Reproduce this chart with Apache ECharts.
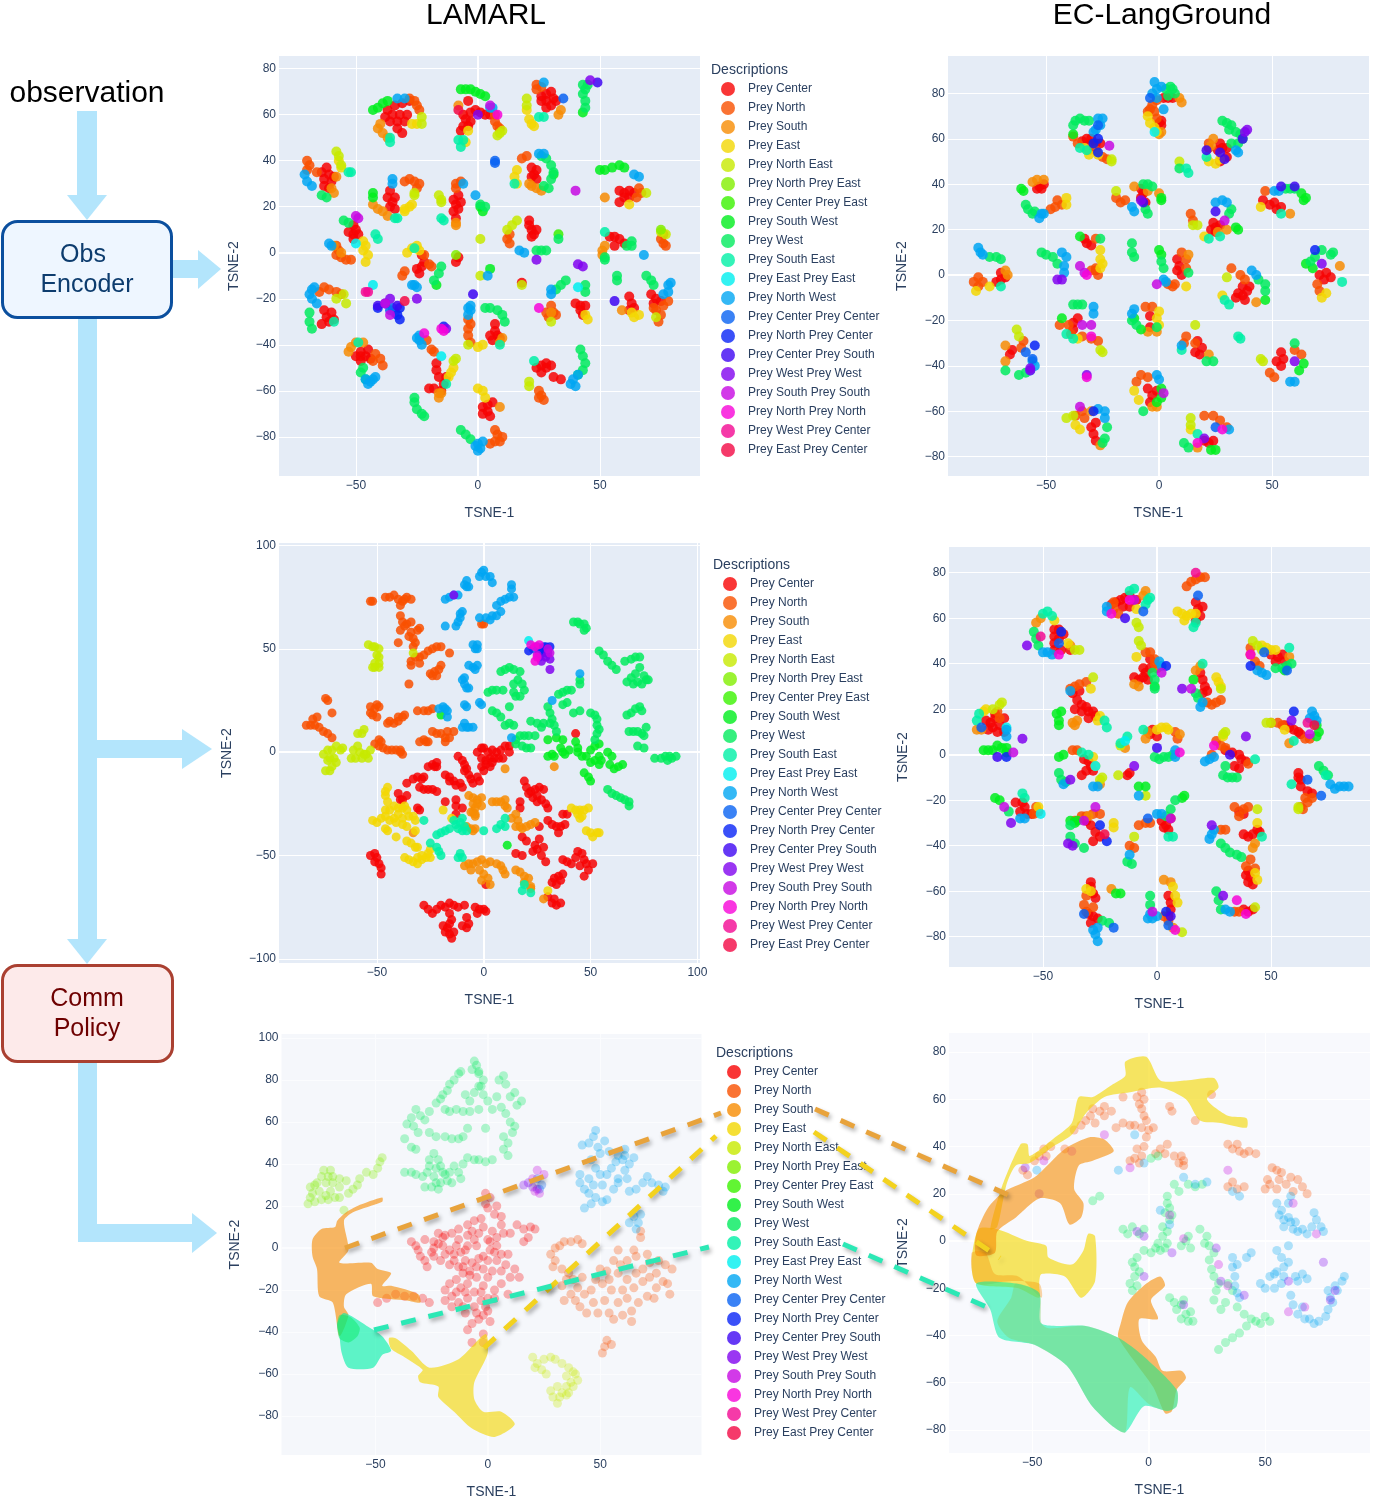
<!DOCTYPE html>
<html><head><meta charset="utf-8">
<script src="https://cdn.jsdelivr.net/npm/echarts@6/dist/echarts.min.js"></script>
<style>html,body{margin:0;padding:0;background:#fff}#c{width:1375px;height:1503px}</style></head>
<body><div id="c"></div>
<script>
const labels=["Prey Center","Prey North","Prey South","Prey East","Prey North East","Prey North Prey East","Prey Center Prey East","Prey South West","Prey West","Prey South East","Prey East Prey East","Prey North West","Prey Center Prey Center","Prey North Prey Center","Prey Center Prey South","Prey West Prey West","Prey South Prey South","Prey North Prey North","Prey West Prey Center","Prey East Prey Center"];
const colors=["#f70404","#f95000","#f78c03","#f3d702","#c7ea00","#82ef00","#3bf200","#00ee1d","#02eb5e","#00f0a6","#00efef","#01a6f2","#0963f2","#0924f6","#3f06f2","#8104ef","#c709e2","#f704d8","#f30992","#f30945"];

// Panel A: LAMARL, observation embedding
const a_center=[-37,62,-34,64,-31,65,-28,66,-38,59,-35,60,-32,60,-36,57,-33,57,-30,57,-33,54,-31,52,-29,60,-6,60,-3,61,-1,62,1,61,3,60,5,60,-5,58,-3,57,-6,55,-4,55,-7,53,-4,66,26,68,28,69,30,70,31,67,28,66,26,66,30,64,32,66,28,63,-64,35,-62,37,-61,34,-63,32,-60,31,-61,28,-63,29,-59,33,-36,27,-37,24,-35,22,-36,20,-34,19,-34,24,-10,23,-9,21,-8,19,-10,18,-9,15,-7,22,-8,25,22,37,24,36,23,34,22,33,24,32,58,27,60,26,62,27,60,24,58,22,62,24,64,26,-53,9,-51,8,-51,12,-49,8,-51,6,-50,10,21,14,21,12,22,10,23,8,22,7,24,10,54,7,56,7,58,6,60,4,56,3,-25,-7,-23,-6,-24,-9,-22,-4,-23,-1,-63,-25,-62,-28,-60,-26,-61,-30,-59,-29,-64,-31,5,-36,7,-34,8,-36,6,-38,9,-37,7,-31,-50,-45,-48,-45,-46,-45,-48,-43,-48,-47,-45,-42,-44,-46,-17,-48,-17,-51,-16,-54,-14,-57,-15,-60,-18,-59,-20,-59,-13,-54,24,-50,26,-49,28,-50,30,-49,26,-52,28,-48,31,-54,34,-55,2,-67,4,-66,6,-65,4,-69,2,-70,5,-71,40,-22,42,-23,44,-23,42,-25,43,-27,62,-19,63,-22,64,-24,62,-25,71,-18,73,-20,72,-22,75,-21,-9,-4,-8,-2,18,-13];
const a_north=[-28,67,-26,66,-25,64,-24,62,24,73,26,72,24,71,-70,40,-69,38,-70,36,-66,35,-30,31,-28,32,-26,31,-24,30,-25,28,-9,30,-7,31,-9,28,18,41,20,42,66,28,67,26,65,24,-58,-1,-56,-2,-54,-3,-57,1,-58,3,-52,-3,13,4,12,6,13,8,75,6,76,4,77,3,76,8,29,-28,31,-26,32,-27,28,-26,30,-23,73,-25,75,-27,74,-30,72,-24,76,-23,78,-21,-19,-42,-18,-43,-21,-38,-22,-1,-20,-5,-19,-6,-30,-8,-31,-10,-63,-15,-61,-16,-58,-17,-56,-18,-65,-17,5,-83,7,-82,9,-82,8,-79,7,-77,10,-80,25,-60,26,-62,27,-64,25,-63,-4,-33,-4,-36,-3,-39,-3,-31,-4,-29,-42,-44,-40,-46,-39,-49,-43,-47,7,60,7,57,8,55,9,54];
const a_south=[-40,56,-41,54,-39,52,-37,50,34,62,33,60,-60,28,-59,26,-58,33,-43,21,-41,19,-39,18,-37,16,-9,13,-9,12,21,30,24,28,26,27,22,29,52,24,-59,3,-56,0,51,1,51,-1,52,3,-53,-43,-52,-41,-50,-39,-47,-39,-16,-61,-16,-63,-15,-61,59,-25,30,-26,9,-39,10,-37,9,-67,-8,64];
const a_east=[-27,56,-25,56,20,62,21,58,22,56,23,55,-4,53,-5,48,-57,40,-56,37,-28,20,-30,19,-30,18,-27,21,16,36,15,33,16,30,62,21,-47,5,-46,3,-47,1,-45,-1,-46,-4,-27,2,-29,0,-25,3,-24,1,-11,-52,-10,-50,-12,-54,0,-59,2,-60,3,-63,63,-26,64,-28,66,-27,44,-27,45,-29,2,-40,0,-41];
const a_ne=[-23,59,-23,56,8,51,10,53,9,52,-58,44,-57,42,-56,38,20,67,20,64,-26,26,-26,25,-16,25,-15,23,-15,22,69,26,12,10,14,12,16,14,-10,-47,-9,-46,75,9,77,8,18,-14,1,-10,-58,-20,-55,-18,-54,-22,30,-30,73,-28,-4,-40,21,-56,21,-58,1,6];
const a_npe=[-9,-1,75,10];
const a_cpe=[33,8];
const a_sw=[-43,62,-41,63,-39,65,-37,66,50,36,52,36,55,37,58,38,60,37,-43,26,-43,24,1,20,2,18,-17,-14,43,61,5,-7,31,34,-7,71,-5,71,-3,71,-1,70,1,69,3,68];
const a_west=[43,73,45,73,44,71,43,69,44,66,44,63,26,42,28,41,30,38,31,35,30,32,29,28,27,29,-64,25,-62,24,1,21,3,20,24,1,26,1,28,1,33,6,63,5,63,3,61,3,52,-2,52,-3,57,-10,57,-12,69,-10,71,-12,72,-14,44,-14,44,-17,36,-12,34,-14,32,-16,3,-24,5,-24,8,-25,10,-27,11,-30,-18,-12,-16,-9,-15,-6,-26,-65,-25,-68,-23,-70,-22,-71,-26,-63,-7,-77,-5,-79,-3,-81,42,-42,43,-45,44,-48,43,-51,41,-53,-47,-50,-48,-52,-46,-55,-69,-26,-69,-30,-68,-33,-55,14,-53,13];
const a_se=[-36,50,-36,48,-8,49,-6,49,-7,46,25,59,27,59,-53,35,-52,35,-34,15,-33,15,-15,15,-14,14,15,30,52,9,-42,8,-41,6,-26,2,-59,-30,-49,-39,-13,-57,9,-40,23,-47];
const a_epe=[41,-15,-43,-14,-50,4,-15,-45];
const a_nw=[-33,67,-30,67,27,74,-71,34,-70,31,-68,29,-35,32,-35,30,-1,25,-6,30,25,43,27,43,64,34,66,33,-60,3,-61,4,17,1,19,0,-26,-14,-25,-15,-27,-14,-68,-16,-69,-18,-67,-15,-68,-20,-66,-22,-4,-24,-3,-25,-4,-27,-3,-23,-24,-36,-24,-38,-23,-40,-25,-37,-46,-55,-44,-56,-43,-55,-45,-57,-42,-54,0,-83,1,-85,2,-82,0,-86,-1,-84,38,-57,40,-58,39,-55,41,-53,76,-18,78,-17,78,-14,79,-13,30,-18,30,-16,4,-10,68,-1,5,63,6,63];
const a_cpc=[-35,-24,-34,-26,-36,-25,7,40,7,39,35,67];
const a_npc=[-33,-27,-32,-24,-32,-29,-14,-32,-41,-24];
const a_cps=[-41,-23,-38,-22,-2,-18,56,-21,-33,-23,49,74];
const a_wpw=[0,60,-36,-20,-25,-20,-13,-33,24,-3,41,-5,43,-6,46,75];
const a_sps=[-50,16,-49,15,40,27,-38,-22,-36,-27,5,64];
const a_npn=[8,60,-15,-33,-14,-34,-22,-35,25,-24];
const a_wpc=[-46,-17,-45,-17];
const a_epc=[-8,62,-30,-21];
const panelA=[a_center,a_north,a_south,a_east,a_ne,a_npe,a_cpe,a_sw,a_west,a_se,a_epe,a_nw,a_cpc,a_npc,a_cps,a_wpw,a_sps,a_npn,a_wpc,a_epc];

// Panel B: EC-LangGround, observation embedding
const b_center=[2,78,4,78,6,78,0,67,1,66,1,68,-34,59,-32,60,-30,58,-28,58,-26,58,-30,60,27,58,28,56,30,56,26,55,30,52,27,50,-53,39,-51,40,-54,38,-52,38,-8,38,-7,36,-8,34,-6,32,24,23,25,21,23,20,25,19,27,22,46,33,49,31,52,29,54,30,51,32,-72,-3,-70,-2,-68,-1,-70,1,-32,14,-30,13,-33,16,-28,2,8,7,9,4,8,2,10,0,37,-5,39,-7,37,-9,35,-8,34,-10,38,-11,40,-5,71,0,73,-2,74,1,76,-1,-38,-21,-36,-19,-38,-24,-4,-18,-4,-23,17,-29,19,-32,18,-35,16,-34,-65,-33,-66,-35,-5,-50,-3,-53,-4,-56,-1,-51,54,-34,55,-37,54,-40,52,-38,-30,-67,-29,-70,-28,-73,-28,-65,20,-73,22,-74,24,-73];
const b_north=[-1,77,-3,75,-4,73,-5,72,-2,72,-1,69,-38,61,-36,58,-31,55,-28,55,-25,52,-23,51,22,56,22,58,-48,29,-46,30,-45,33,-43,31,-19,34,-17,32,-15,33,14,27,15,24,47,37,-80,-5,-82,-3,-80,-1,-78,-3,-28,16,-30,2,-27,0,-28,3,4,-4,6,-5,7,-4,10,10,12,7,12,3,32,3,36,0,38,-2,70,-4,71,-7,-44,-22,-40,-22,-39,-26,-34,-27,-30,-28,-27,-29,-6,-14,-3,-14,12,-27,11,-30,16,-30,-60,-29,-61,-32,-10,-47,-8,-44,-5,-45,49,-43,51,-45,63,-35,60,-33,-37,-62,-34,-60,-33,-63,20,-62,24,-62,27,-64,30,-67];
const b_south=[9,78,10,76,0,62,1,63,24,60,23,57,-56,41,-54,42,-51,42,-11,39,-5,37,0,36,26,19,30,20,58,27,-68,2,-67,0,13,9,43,-12,80,4,-5,-25,-1,-25,22,-35,-68,-31,-68,-38,-3,-58,-1,-58,-30,-60,-26,-75,17,-76];
const b_east=[-5,70,-4,67,-2,65,-1,63,-33,56,-31,53,-27,53,22,50,25,49,27,51,-41,34,-41,31,20,17,45,30,-81,-7,-75,-5,-26,11,-26,7,-26,3,-25,5,12,-5,28,-9,72,-10,74,-8,-36,-28,-1,-19,0,-16,0,-22,-11,-51,-9,-55,-37,-66,-35,-68,14,-68];
const b_ne=[-21,50,-21,51,-19,37,15,22,17,22,30,-1,-26,-33,-25,-34,16,-22,-63,-24,-62,-27,45,-37,46,-38,-41,-63,-38,-62,14,-63,14,-66,9,50];
const b_sw=[-38,62,-60,37,-61,38,1,33,1,34,34,21,35,20,63,36,65,34,64,33,-35,17,0,11,1,9,47,-11,65,5,68,3,-43,-19,-11,-19,-8,-24,1,-50,1,-54,-1,-56,64,-39,62,-42,23,-77,25,-77];
const b_west=[3,82,5,83,6,82,7,80,4,79,-38,66,-37,68,-35,69,-33,68,-31,68,28,68,30,67,32,66,34,63,36,62,37,60,35,58,32,58,31,64,9,47,-59,31,-58,29,-56,27,-55,28,-7,40,-5,40,-3,39,-6,29,-5,27,32,29,31,27,56,38,58,38,60,38,-75,8,-72,8,-70,7,-52,10,-50,9,-47,8,-45,5,-26,16,-12,14,-12,10,-11,8,1,6,2,3,13,1,44,-2,47,-4,47,-7,67,6,69,8,72,11,76,9,77,10,-38,-13,-36,-13,-34,-13,-12,-20,-10,-22,-1,-23,21,-38,24,-38,-68,-42,-62,-44,-59,-43,-7,-60,60,-30,-23,-67,-24,-72,-25,-74,11,-74,13,-76];
const b_se=[-35,56,-32,55,21,52,22,16,27,17,54,27,-70,-5,29,-11,31,-13,81,-3,-41,-26,-38,-28,10,-33,17,-70,12,47,13,45,35,-27,36,-28];
const b_nw=[-2,85,-1,82,-3,80,-1,78,1,83,2,73,-27,69,-25,69,-26,66,-28,64,-29,63,34,55,35,54,-52,27,-51,27,-53,25,-12,30,-11,28,25,32,28,33,30,32,53,37,51,37,-80,12,-79,10,-78,9,-43,10,-41,8,-42,4,-42,1,2,-2,3,-3,41,2,43,0,-29,-14,-29,-17,-11,-15,-12,-17,-57,-42,-56,-38,-55,-40,-1,-44,0,-46,58,-47,60,-47,-27,-59,-24,-60,-24,-63,10,-31,31,-68];
const b_epe=[-2,63];
const b_cpc=[-56,-37,25,-67,-27,66,-4,78,-59,-34];
const b_npc=[-27,60,69,11,-55,-31,-29,58,-27,54,-29,-60];
const b_cps=[27,54,21,55,29,51,37,60,-7,32,25,28,54,39,60,39];
const b_wpw=[38,63,39,64,-8,33,72,5,-32,-44,-45,-2,-43,-2,-57,-41,-57,-42,60,-38,20,-72];
const b_sps=[-22,57,29,24,-34,-22,-30,-22,-33,1,-35,4,-1,-4,2,-52,-35,-58];
const b_npn=[-32,0,-30,-27,28,-68,17,-74,-32,-45];
const panelB=[b_center,b_north,b_south,b_east,b_ne,null,null,b_sw,b_west,b_se,b_epe,b_nw,b_cpc,b_npc,b_cps,b_wpw,b_sps,b_npn,null,null];

// Panel C: LAMARL, encoder after communication
const c_center=[-3,0,-1,2,0,2,2,0,4,1,6,0,8,1,10,3,12,3,12,0,-1,-3,1,-4,3,-3,5,-3,7,-3,9,-3,1,-6,3,-7,4,-5,0,-9,-1,-7,-12,-2,-10,-4,-9,-6,-8,-8,-9,-9,-7,-11,-6,-13,-5,-15,-2,-14,-3,-12,-26,-7,-24,-6,-23,-7,-22,-5,-22,-7,-18,-11,-16,-14,-14,-14,-13,-16,-11,-15,-10,-17,-16,-12,-36,-15,-33,-13,-31,-12,-29,-13,-28,-12,-30,-17,-28,-18,-26,-18,-24,-18,-22,-19,-40,-20,-39,-23,-38,-23,-36,-21,-30,-28,-31,-27,-18,-24,-13,-23,-13,-26,-10,-27,-13,-30,19,-14,20,-17,22,-19,24,-18,26,-17,28,-18,21,-20,23,-22,25,-21,27,-23,29,-25,25,-24,30,-27,17,-24,17,-27,37,-30,39,-30,30,-33,32,-35,34,-36,36,-36,35,-39,38,-35,26,-36,18,-41,20,-43,24,-45,25,-47,26,-42,28,-46,27,-50,29,-53,23,-48,15,-49,18,-50,37,-52,39,-53,41,-54,44,-48,46,-49,47,-52,45,-55,48,-54,49,-57,47,-60,51,-54,43,-51,33,-61,35,-60,36,-62,34,-64,37,-59,32,-63,30,-70,32,-73,34,-74,36,-73,33,-71,-53,-50,-51,-49,-51,-53,-49,-54,-48,-56,-50,-51,-48,-59,-28,-74,-26,-76,-24,-78,-22,-76,-20,-74,-18,-75,-16,-73,-14,-74,-12,-75,-9,-74,-4,-75,-2,-76,0,-76,1,-77,-3,-78,-16,-78,-19,-84,-17,-85,-16,-83,-15,-81,-18,-87,-16,-88,-15,-90,-14,-87,-10,-84,-8,-85,-7,-83,-8,-80,1,-64,43,9];
const c_north=[-53,73,-52,73,-46,75,-44,75,-42,76,-40,74,-38,73,-36,75,-34,74,-39,71,-37,74,-39,66,-38,63,-36,62,-34,63,-39,59,-37,61,-34,58,-33,55,-32,53,-35,56,-31,59,-30,60,-33,51,-40,53,-34,44,-32,46,-30,46,-28,47,-26,49,-24,50,-22,51,-20,51,-34,42,-30,43,-16,48,-25,38,-23,39,-21,40,-24,37,-22,37,-20,42,-35,33,-74,26,-73,25,-71,19,-53,22,-52,18,-50,17,-51,21,-50,23,-53,19,-49,22,-44,15,-42,14,-40,15,-38,17,-37,18,-40,17,-45,14,-31,20,-28,20,-26,20,-24,21,-83,13,-81,13,-80,16,-78,17,-79,13,-77,12,-75,10,-73,9,-71,7,-24,10,-22,9,-20,9,-18,7,-17,10,-16,7,-14,10,-18,5,-30,5,-28,6,-27,5,-26,5,-51,4,-49,6,-48,5,-49,3,-47,2,-45,1,-43,1,-41,1,-39,0,-38,-1,-39,1,-1,62,0,62];
const c_south=[-7,-21,-5,-22,-3,-23,-1,-22,-5,-25,-4,-27,-3,-25,-1,-26,-5,-29,-4,-31,4,-24,6,-24,8,-24,10,-23,10,-26,11,-27,13,-32,15,-30,16,-33,17,-36,15,-36,18,-37,20,-36,22,-35,24,-34,-8,-36,-6,-37,-5,-38,-4,-37,-6,-29,-4,-30,-9,-55,-7,-54,-5,-54,-3,-53,-1,-52,1,-54,3,-53,6,-54,8,-55,9,-57,10,-59,-6,-57,-2,-57,0,-59,-1,-62,2,-61,3,-64,15,-57,17,-58,19,-60,21,-61,19,-63,22,-65,22,-66,33,-7,10,-8,28,-71,-33,-39];
const c_east=[-46,-19,-45,-17,-46,-21,-45,-24,-44,-28,-42,-26,-40,-27,-38,-27,-36,-28,-37,-26,-46,-28,-46,-31,-44,-33,-42,-32,-40,-30,-38,-32,-35,-31,-33,-31,-41,-34,-38,-35,-48,-32,-50,-34,-52,-33,-46,-37,-45,-38,-36,-36,-32,-33,-32,-38,-41,-41,-36,-43,-34,-44,-32,-46,-31,-46,-37,-51,-35,-52,-33,-53,-31,-51,-29,-52,-27,-51,-26,-49,-25,-47,-25,-51,-29,-50,-31,-54,41,-27,43,-28,45,-28,47,-28,49,-27,44,-30,46,-31,45,-32,48,-38,50,-39,51,-41,53,-39,54,-39,-19,-28,-15,-32,30,-67];
const c_ne=[-54,52,-52,51,-51,51,-49,50,-50,47,-49,46,-51,43,-49,43,-51,41,-49,41,-52,41,-59,9,-57,9,-56,11,-75,-1,-73,1,-71,1,-69,3,-67,1,-66,2,-72,-3,-70,-3,-73,-4,-69,-5,-71,-7,-72,-9,-74,-9,-62,-3,-61,1,-59,3,-58,0,-60,-3,-56,-1,-55,-1,-54,-3,-53,1,-57,-3,-33,48];
const c_sw=[30,-2,32,-1,33,-2,36,2,37,0,38,-1,40,1,34,7,37,6,30,6,43,5,44,2,44,0,46,-2,48,-2,50,-5,52,-4,50,1,52,3,54,4,54,-2,55,-4,54,-6,58,0,60,-2,59,-6,61,-8,63,-7,65,-6,47,-10,49,-12,50,-14,11,-45,-20,18];
const c_west=[42,63,44,63,45,62,47,62,48,60,47,59,54,49,56,47,58,44,60,42,62,40,66,44,69,45,71,46,73,46,73,41,71,38,69,36,70,33,67,34,72,34,74,33,76,35,77,35,75,37,8,39,10,40,12,41,14,40,17,39,2,29,4,30,6,30,9,30,14,33,16,35,18,33,19,30,17,27,15,27,14,29,4,20,6,19,8,17,12,22,10,13,12,14,14,13,15,6,17,8,19,8,21,8,24,8,15,4,18,3,20,2,22,2,22,15,25,14,27,12,28,14,35,28,37,29,39,30,41,30,37,23,39,24,30,22,31,19,32,16,31,14,33,13,34,10,42,19,45,20,50,19,52,18,53,16,53,13,54,11,53,9,52,6,45,35,45,33,67,18,69,19,71,21,73,22,74,20,68,10,70,10,72,10,74,9,75,8,76,12,72,3,75,2,80,-3,83,-3,85,-2,87,-2,88,-3,90,-2,86,-4,58,-18,60,-20,62,-21,64,-22,66,-23,68,-24,68,-26];
const c_se=[-14,-33,-13,-35,-11,-34,-10,-32,-9,-36,-12,-37,-10,-38,-8,-38,-22,-40,-20,-39,-18,-38,-16,-37,-25,-44,-22,-46,-21,-48,-20,-50,-12,-51,-11,-49,-10,-51,6,-37,8,-35,10,-32,10,-36,-28,-33,19,-64,18,-67,22,-68,0,-38];
const c_epe=[21,54];
const c_nw=[-2,85,-1,87,0,88,1,85,3,85,4,82,-8,83,-9,81,-8,80,-7,80,13,81,13,79,14,75,12,75,10,74,8,73,6,71,8,68,6,66,4,66,3,64,1,65,-2,65,-11,67,-10,68,-11,65,-12,63,-13,61,-18,61,-18,74,-16,75,-14,76,-12,76,-5,52,-4,50,-3,52,-3,50,-7,42,-5,41,-4,40,-3,42,-10,35,-9,33,-8,31,-7,31,-9,36,-21,21,-19,22,-18,21,-17,20,-17,17,-9,23,-8,22,-2,24,-1,23,-9,14,-8,12,-10,12,-7,12,-5,12,13,7,32,25,45,38];
const c_cpc=[23,50,25,51,28,51,26,46];
const c_npc=[27,50,29,51,31,51,29,48,26,48,21,49];
const c_wpw=[30,48,31,45,29,46,27,44,31,40,-14,76];
const c_sps=[31,48,30,50,25,47];
const c_npn=[24,51,22,52,25,46,24,44,26,52];
const panelC=[c_center,c_north,c_south,c_east,c_ne,null,null,c_sw,c_west,c_se,c_epe,c_nw,c_cpc,c_npc,null,c_wpw,c_sps,c_npn,null,null];

// Panel D: EC-LangGround, encoder after communication
const d_center=[-45,55,-43,55,-45,52,-43,51,-45,49,-41,53,-45,46,-42,46,-38,46,-20,66,-18,67,-16,68,-14,69,-12,70,-12,65,-15,65,-9,68,17,67,18,64,19,61,17,59,20,65,-6,38,-5,36,-3,38,-6,34,-8,33,-4,33,-10,34,-3,42,20,33,21,30,20,27,22,28,19,36,50,44,53,43,55,44,56,41,52,41,-35,24,-33,22,-31,21,-30,19,-28,19,-33,19,-30,16,-27,17,-37,27,-36,20,-34,28,-75,15,-73,14,-71,16,-72,12,-69,13,-74,11,-70,10,-71,18,-67,16,-67,10,0,8,-3,9,-2,11,58,12,60,11,62,10,63,9,56,13,30,2,33,1,36,0,37,-2,39,-3,36,-6,34,-5,62,-10,63,-11,63,-14,62,-8,66,-16,68,-17,-59,-21,-58,-23,-60,-25,-57,-26,-55,-26,-62,-21,-32,-2,-30,-3,-29,-5,-31,-7,-28,-7,-33,-9,-31,-29,-29,-31,-27,-34,-25,-36,-28,-38,2,-29,4,-31,5,-33,3,-32,6,-28,38,-35,40,-36,42,-35,44,-33,45,-34,36,-25,38,-26,40,-51,41,-54,40,-56,42,-57,39,-53,38,-68,40,-69,42,-68,-29,-58,-28,-61,-27,-63,-29,-56,-30,-70,-28,-71,-26,-72,-29,-74,5,-62,6,-65,6,-68,5,-71,-13,-9,-12,-8];
const d_north=[-19,64,-17,62,-19,67,13,74,15,76,17,77,19,78,21,78,-5,45,-3,45,-1,42,-1,40,0,38,22,23,24,22,26,23,28,24,41,47,41,44,43,41,45,39,-38,29,-36,30,-34,31,-31,32,26,6,28,4,30,3,-70,19,-69,16,65,7,67,7,50,14,53,14,55,13,65,-19,66,-21,68,-19,64,-24,63,-23,-31,-62,-32,-66,-31,-69,-28,-67,3,-71,5,-73,39,-49,43,-50,34,-23,38,-24,40,-23,36,-27,34,-69,36,-69,-54,-26,-52,-25,-53,-23,-36,-29,-33,-27,-31,-27,-28,-26,-25,-26,-8,-31,-5,-30,-3,-30,-12,-40,-10,-41,28,-33,30,-33,40,-4,8,10,9,7,-37,2,-35,2,24,0,41,-46];
const d_south=[-53,58,-51,60,-38,48,-6,70,-5,72,58,5,-79,11,-77,11,-8,30,-10,31,-37,14,-35,15,-36,13,-25,-13,42,-41,43,-39,-5,7,-4,10,17,37,19,39,58,43,-20,-59,3,-55,6,-56,7,-76,-30,-27,-14,3,10,9];
const d_east=[9,63,11,62,13,61,15,62,17,62,12,59,27,32,28,30,26,34,46,48,48,47,50,46,52,46,-9,43,-45,59,-39,49,-31,-59,-29,-60,7,-58,8,-62,9,-65,43,-52,44,-55,-19,-30,-19,-32,44,-30,0,11,2,12,4,12,5,11,-52,-23,56,11,-25,17,-26,15,-29,29,-76,19,-75,20,-27,-5,29,8,-28,-1,-9,64];
const d_ne=[-34,46,-36,46,-9,58,-8,56,-8,50,-7,48,42,50,44,48,46,46,29,9,30,10,43,-67,11,-78,62,-24,62,-23,-72,20,-69,22,-68,23,-28,34,-24,-10,-25,-11,-17,-9,-10,-36,-5,-18,44,-24,28,29,48,14,50,14,-16,4];
const d_sw=[-76,2,-74,2,-72,2,-70,4,-68,3,-66,3,-66,1,-44,18,-43,15,-43,13,-42,19,-43,-1,-41,0,-71,-19,-69,-20,-38,-29,-35,-29,-36,-30,12,-18,11,-19,-18,-61,-16,-61,-1,30,-8,-14,-5,-14,70,13,71,10,70,8,56,37,16,33];
const d_west=[-54,54,-53,51,-52,48,-1,33,-1,29,-2,36,17,27,18,25,29,-9,31,-10,33,-10,35,-10,30,-5,52,38,55,38,57,39,59,40,71,-5,73,-7,75,-9,28,-39,30,-41,32,-43,35,-44,37,-45,26,-60,27,-64,28,-68,-3,-62,-3,-66,-43,-8,-42,-11,-40,-12,-38,-31,-38,-36,-36,-39,-32,-41,-24,-73,-21,-74,-13,-47,-11,-48,-65,-25,-1,-1,1,-2,3,-1,5,-1,7,0,4,-27,6,-24,8,-20];
const d_se=[-50,62,-48,63,-46,61,-79,15,-78,18,-23,15,-22,12,16,56,17,58,20,40,-4,68,-3,69,-5,66,-12,72,-10,73,-6,11,58,47,43,-2,74,-9,59,-13,46,-36,5,-36,7,-36,-16,5,-33,1,-30,0,60,6,-13,8,-59,-17,-58,-19];
const d_epe=[-66,12,-51,-26,-27,-5,-14,6];
const d_nw=[-48,45,-46,44,-50,45,-22,65,-22,63,1,41,2,39,20,23,19,21,44,37,46,36,48,35,68,19,69,17,70,15,67,16,23,-2,21,-3,25,-1,76,-13,78,-15,80,-14,82,-14,84,-14,-26,-76,-27,-79,-26,-82,-28,-77,-4,-72,-2,-72,-3,-70,0,-71,30,-68,32,-69,23,-37,24,-35,25,-33,0,-26,2,-26,-38,28,-26,-14,-28,-14,-60,-28,-58,-28,-66,8,-66,11,8,2,8,-1,-8,-18,-12,-44,-41,-13];
const d_cpc=[-77,12,-6,63,18,70,47,45,57,37,72,-18,-32,-70,-19,-76,-4,-28,5,-75,-43,49,66,-11];
const d_npc=[-42,54,-25,-31,-22,-38,41,39,4,39,-66,-1,4,-69,60,19];
const d_cps=[-14,60,0,3,32,0,6,-71,-70,-1];
const d_wpw=[-57,48,11,29,39,8,-39,-39,-37,-40,24,-31,29,-62,59,15,-38,-11,-10,-5,-64,-30,-59,7];
const d_sps=[15,29,2,36,-32,-29,67,9,-27,-23,-63,1,-67,-23,-2,-69,6,-28,-10,68];
const d_npn=[-20,62,-43,44,25,4,41,44,10,1,35,-64,39,-70,8,-77,-12,68];
const d_wpc=[17,80,66,14,-51,52];
const d_epc=[69,13,-23,-35];
const panelD=[d_center,d_north,d_south,d_east,d_ne,null,null,d_sw,d_west,d_se,d_epe,d_nw,d_cpc,d_npc,d_cps,d_wpw,d_sps,d_npn,d_wpc,d_epc];

// Panel E: LAMARL, communication messages (faded groups, solid regions)
const e_west=[-6,89,-7,85,-5,87,-4,84,-2,80,-4,83,-3,77,-13,83,-12,84,-17,78,-15,80,-20,73,-18,75,-23,69,-21,71,-19,66,-17,65,-11,65,-14,66,-4,66,-8,65,-10,73,-8,70,-6,74,-4,77,-2,73,0,70,2,66,4,72,7,82,5,80,8,78,12,74,10,72,15,70,13,68,6,67,8,64,11,55,10,60,12,58,7,53,9,50,7,47,9,44,-32,66,-34,62,-36,59,-33,58,-28,61,-30,63,-26,65,-31,55,-26,55,-23,53,-19,53,-16,52,-13,52,-11,53,-9,57,-37,52,-34,48,-32,47,-24,45,-26,42,-22,42,-37,36,-34,36,-32,35,-29,34,-26,39,-24,34,-23,38,-21,39,-21,31,-19,35,-18,32,-28,29,-25,29,-22,28,-15,39,-16,31,-13,36,-12,33,-9,43,-11,40,-6,42,-4,42,-1,41,2,42,-1,57,-27,36,-23,31,-20,36,-17,36];
const e_npe=[-47,43,-48,41,-49,38,-51,35,-54,36,-57,33,-58,30,-60,28,-62,26,-66,24,-70,37,-71,34,-69,34,-74,34,-72,31,-69,31,-66,33,-63,32,-79,29,-78,26,-77,30,-80,21,-79,24,-77,22,-74,23,-71,23,-68,24,-64,18,-73,37,-76,31,-75,27,-70,27,-66,29,-72,25];
const e_center=[-1,26,1,24,4,20,3,16,6,15,-6,13,-9,11,-13,9,-4,7,-7,8,-22,7,-19,6,-16,7,-28,4,-34,3,-32,1,-30,-4,-31,-1,-27,-9,-28,-6,-20,1,-24,0,-15,-3,-17,-1,-9,1,-12,-2,-5,1,4,1,1,3,7,7,4,5,16,9,19,10,21,9,13,11,16,3,18,5,-21,-6,-24,-4,-13,-9,-17,-8,-7,-7,-10,-6,-2,-10,-4,-5,0,-6,4,-6,2,-11,9,-3,6,-3,8,-8,12,-10,14,-14,10,-14,6,-11,-17,-17,-14,-15,-9,-17,-12,-19,-2,-18,-5,-14,6,-17,3,-20,9,-22,-19,-25,-16,-23,-13,-26,-16,-28,-6,-28,-9,-24,0,-30,-3,-25,-4,-34,-2,-32,-9,-39,-7,-36,-2,-41,-49,-26,-45,-24,-41,-22,-37,-23,-33,-23,-26,-26,-29,-24,-2,-45,-7,-45,-24,3,-20,5,-13,4,-9,6,-6,4,-10,-1,-14,1,-19,-3,-25,-2,-22,2,0,4,2,8,-2,10,-3,14,0,19,-1,21,6,11,10,7,-15,-6,-11,-9,-8,-11,-5,-9,-2,-4,1,-1,3,-2,0,-14,-8,-13,-11,-12,-3,-21,0,-24,3,-24,-6,-21,-10,-21,-14,-21,-19,-20,-11,-28,-10,-31,-5,-31,-1,-28,1,-35];
const e_north=[28,-3,30,0,32,1,34,3,37,3,40,4,42,2,29,-9,30,-6,36,-12,33,-10,33,-18,35,-15,34,-25,37,-22,41,-28,39,-25,43,-22,46,-20,51,-17,48,-15,56,-6,53,-11,62,-6,59,-8,71,-3,66,-4,66,-12,62,-15,75,-12,72,-7,82,-10,79,-8,81,-22,80,-17,71,-23,75,-19,64,-30,67,-26,54,-31,58,-26,64,-35,60,-32,56,-34,49,-31,52,-25,53,-44,55,-46,51,-50,52,-47,68,8,68,5,58,-12,65,-19,69,-10,69,-16,72,-14,76,-6,78,-16,74,-24,60,-20,62,-24,55,-20,47,-26,44,-31,40,-19,38,-15,42,-14,50,-10,54,-15,58,-1,65,-1];
const e_ne=[20,-52,22,-55,24,-58,26,-60,30,-53,28,-52,33,-55,36,-57,38,-59,39,-60,37,-64,40,-63,35,-66,28,-68,31,-66,32,-71,35,-70,31,-74,36,-69,25,-53,21,-57,38,-66,35,-61,33,-69,29,-71];
const e_nw=[48,56,47,53,42,49,45,50,49,48,52,51,50,45,61,47,58,44,65,43,63,40,46,42,48,38,50,35,53,35,55,38,61,37,58,33,58,31,56,28,41,31,43,28,45,26,48,24,51,22,53,23,43,19,46,21,71,34,69,31,66,28,63,27,79,29,78,27,65,15,63,12,67,12,66,9,68,16,54,46,57,41,60,42,62,33,51,30,45,33,41,35,47,30,73,31,76,30,61,44];
const e_wpw=[18,31,20,29,22,28,16,30];
const e_sps=[20,33,21,27,23,26,25,35,22,37];
const e_cpc=[22,33,24,30,23,28];
const e_shape_south=[-47,24,-58,20,-63,17,-67,13,-68,10,-74,9,-78,4,-78,-4,-76,-10,-75,-23,-69,-26,-66,-42,-62,-32,-64,-28,-63,-22,-52,-17,-51,-23,-36,-25,-30,-26,-31,-22,-43,-18,-47,-18,-43,-12,-49,-10,-52,-7,-66,-7,-62,-1,-64,13,-60,17,-47,22];
const e_shape_se=[-64,-31,-54,-37,-47,-42,-43,-49,-47,-51,-51,-57,-62,-57,-65,-50,-66,-42,-67,-36];
const e_shape_west=[-66,-32,-61,-33,-57,-38,-58,-42,-62,-45,-66,-43,-67,-37];
const e_shape_east=[-44,-43,-41,-43,-34,-49,-26,-57,-13,-53,-1,-41,0,-50,-6,-64,-6,-72,-2,-78,6,-78,12,-84,3,-90,-7,-86,-15,-78,-22,-71,-22,-66,-30,-64,-31,-61,-29,-58,-37,-52,-43,-48];

// Panel F: EC-LangGround, communication messages
const f_north=[-54,30,-52,28,-49,34,-47,36,-45,39,-42,40,-36,39,-27,51,-25,53,-24,56,-21,55,-19,57,-19,53,-16,55,-11,61,-5,61,-4,58,-3,56,-2,53,-1,51,2,48,0,47,-11,50,-8,49,-6,49,9,57,10,55,-5,39,-3,36,5,39,3,37,8,41,-8,34,-6,35,14,36,15,34,15,32,34,41,36,39,41,37,43,38,46,37,34,23,36,25,41,23,53,31,55,30,57,29,61,27,64,26,68,20,50,22,55,22,52,24,20,51,27,62,-32,47,-29,49,-23,50,-14,48,-3,48,-1,44,7,37,11,36,13,33,-2,40,-4,33,38,41,39,38,66,23,62,21,59,24,56,26,51,26,38,22,-3,63,-2,60,-44,36];
const f_nw=[58,9,60,10,61,8,62,5,64,4,66,5,68,3,71,12,72,9,75,4,74,6,55,-4,57,-7,60,-9,52,-15,54,-14,57,-18,58,-15,63,-15,66,-14,68,-16,61,-23,62,-27,64,-31,67,-33,71,-35,76,-32,77,-29,79,-26,81,-21,83,-17,61,19,60,16,55,16,57,13,36,21,39,19,36,-7,38,-10,44,-5,42,-7,38,-22,39,-24,-48,30,-13,30,-2,33,9,7,5,13,20,24,25,25,15,27,-6,45,56,11,58,6,63,8,70,6,60,-2,58,-11,55,-13,48,-18,50,-20,54,-20,64,-17,66,-28,69,-33,73,-34,78,-24,80,-19,84,-15,77,-21,36,-11,37,-15,37,-19];
const f_west=[-11,5,-9,3,-7,6,-2,5,-4,3,6,6,8,4,9,9,10,11,8,16,8,19,11,24,13,21,17,24,20,23,23,24,-2,-4,1,-5,3,-3,5,-4,16,0,18,-3,25,2,24,-1,28,-5,26,-8,27,-12,28,-15,30,-18,29,-21,28,-25,34,-18,36,-21,-6,-11,-4,-13,-8,-18,-6,-15,9,-24,11,-26,14,-27,16,-31,14,-33,19,-34,18,-30,36,-41,33,-43,30,-46,42,-36,39,-39,52,-34,50,-32,41,-31,38,-28,46,-34,-24,17,-21,19,1,35,4,36,7,12,9,14,6,2,4,-1,-5,-7,-7,-9,-5,-19,-7,-21,7,-3,8,-1,14,-2,17,2,22,5,26,-2,33,-26,31,-29,44,-33,48,-35,12,-29,15,-25,17,-34];
const f_wpw=[-53,31,-47,20,-5,4,-2,2,10,-5,29,-3,31,-17,41,-23,60,-17,80,-21,78,-25,75,-9,15,-27,-2,-15];
const f_sps=[-45,34,-33,38,-19,45,-8,31,9,11,15,1,30,-10,34,-19,60,-30,62,16,34,30,67,-28,72,3];
const f_shape_east_top=[-63,23,-55,41,-52,41,-51,36,-40,44,-33,50,-30,61,-24,61,-16,66,-10,70,-10,76,-1,78,5,68,16,68,28,69,30,65,25,60,34,53,42,52,42,48,31,50,22,51,16,60,5,65,-8,63,-19,61,-27,54,-33,45,-41,40,-51,33,-57,32,-61,24,-65,6,-68,5];
const f_shape_south_top=[-74,3,-69,14,-62,21,-49,27,-36,39,-25,44,-19,43,-15,38,-24,34,-30,32,-32,22,-28,16,-29,10,-34,7,-38,16,-47,18,-57,10,-65,4,-66,-5,-74,-6];
const f_shape_east_mid=[-73,5,-65,5,-52,0,-44,-2,-43,-7,-33,-10,-28,-4,-26,3,-23,2,-23,-17,-29,-24,-36,-15,-46,-14,-47,-18,-47,-24,-56,-20,-74,-18,-76,-9];
const f_shape_south_low=[-76,-5,-74,-18,-60,-17,-47,-18,-46,-24,-56,-15,-66,-14,-70,-5];
const f_shape_south_right=[-13,-41,-12,-35,-9,-26,-1,-18,5,-15,7,-19,1,-25,4,-33,-4,-33,-3,-42,3,-49,6,-55,14,-55,16,-58,12,-63,10,-72,7,-73,2,-62];
const f_shape_se=[-74,-18,-57,-18,-47,-22,-46,-35,-27,-36,-13,-41,-2,-49,12,-63,12,-70,8,-72,-2,-70,-10,-81,-16,-78,-25,-69,-35,-53,-49,-44,-64,-41,-68,-29];
const f_shape_west=[-57,-18,-47,-22,-46,-35,-43,-37,-27,-36,-13,-41,-2,-49,12,-63,12,-70,8,-72,0,-69,-8,-62,-10,-81,-16,-78,-25,-69,-35,-53,-49,-44,-60,-41,-65,-34,-59,-24];

// Axis scales and tick labels
const xTicksA=[-50,0,50], yTicksA=[-80,-60,-40,-20,0,20,40,60,80];
const xTicksB=[-50,0,50], yTicksB=[-80,-60,-40,-20,0,20,40,60,80];
const xTicksC=[-50,0,50,100], yTicksC=[-100,-50,0,50,100];
const xTicksD=[-50,0,50], yTicksD=[-80,-60,-40,-20,0,20,40,60,80];
const xTicksE=[-50,0,50], yTicksE=[-80,-60,-40,-20,0,20,40,60,80,100];
const xTicksF=[-50,0,50], yTicksF=[-80,-60,-40,-20,0,20,40,60,80];

const INK='#2a3f5f', FONT='"Liberation Sans",Arial,sans-serif';
const pairs=f=>{const o=[];for(let i=0;i<f.length;i+=2)o.push([f[i],f[i+1]]);return o;};

const panels=[
 {l:279,t:56,r:700,b:476,x:[-81.5,91],y:[-97,85.5],xt:xTicksA,yt:yTicksA,bg:'#e5ecf6',grid:'#ffffff',gapY:38},
 {l:948,t:56,r:1369,b:476,x:[-93.4,92.9],y:[-88.5,96.5],xt:xTicksB,yt:yTicksB,bg:'#e5ecf6',grid:'#ffffff',gapY:39},
 {l:279,t:543,r:700,b:963,x:[-95.8,101.2],y:[-102,101.2],xt:xTicksC,yt:yTicksC,bg:'#e5ecf6',grid:'#ffffff',gapY:45},
 {l:949,t:547,r:1370,b:967,x:[-91.2,93.4],y:[-93.3,91.3],xt:xTicksD,yt:yTicksD,bg:'#e5ecf6',grid:'#ffffff',gapY:39},
 {l:281.5,t:1034,r:701.5,b:1455,x:[-91.8,95.1],y:[-98.6,101.9],xt:xTicksE,yt:yTicksE,bg:'#f5f7fb',grid:'#fbfcfe',gapY:39},
 {l:949,t:1033,r:1370,b:1453,x:[-85.7,95],y:[-89.8,88.1],xt:xTicksF,yt:yTicksF,bg:'#f8f9fd',grid:'#ffffff',gapY:39}
];
const grids=[],xAxes=[],yAxes=[],series=[];
const fmt=v=>String(v).replace('-','\u2212');
panels.forEach((p,i)=>{
 grids.push({show:true,left:p.l,top:p.t,width:p.r-p.l,height:p.b-p.t,backgroundColor:p.bg,borderWidth:0});
 const common={type:'value',gridIndex:i,axisLine:{show:false},nameLocation:'middle',nameTextStyle:{color:INK,fontSize:14,fontFamily:FONT},
  splitLine:{show:true,lineStyle:{color:p.grid,width:1}},minorTick:{show:false}};
 xAxes.push({...common,min:p.x[0],max:p.x[1],name:'TSNE-1',nameGap:30,
  axisTick:{show:false,customValues:p.xt},axisLabel:{customValues:p.xt,formatter:fmt,color:INK,fontSize:12,fontFamily:FONT,margin:4}});
 yAxes.push({...common,min:p.y[0],max:p.y[1],name:'TSNE-2',nameGap:p.gapY,
  axisTick:{show:false,customValues:p.yt},axisLabel:{customValues:p.yt,formatter:fmt,color:INK,fontSize:12,fontFamily:FONT,margin:3,padding:[2,0,0,0]}});
 // zero lines
 series.push({type:'line',name:'zero',xAxisIndex:i,yAxisIndex:i,data:[],silent:true,
  markLine:{silent:true,symbol:'none',z:1,label:{show:false},animation:false,lineStyle:{color:p.grid,width:2,type:'solid'},data:[{xAxis:0},{yAxis:0}]}});
});
function addScatter(idx,list,op,size){
 list.forEach((arr,k)=>{ if(!arr)return;
  series.push({type:'scatter',name:labels[k],xAxisIndex:idx,yAxisIndex:idx,symbolSize:size,data:pairs(arr),animation:false,silent:true,z:3,
   itemStyle:{color:colors[k],opacity:op}});
 });
}
function addShape(idx,arr,k,op,z,fill){
 const pts=pairs(arr);
 series.push({type:'custom',name:labels[k],coordinateSystem:'cartesian2d',xAxisIndex:idx,yAxisIndex:idx,data:pts,silent:true,animation:false,z:z,clip:false,
  renderItem:(params,api)=>{ if(params.dataIndex!==0)return null;
   return {type:'polygon',shape:{points:pts.map(q=>api.coord(q)),smooth:0.25},style:{fill:fill||colors[k],opacity:op}};}});
}
addScatter(0,panelA,0.85,10);
addScatter(1,panelB,0.85,10);
addScatter(2,panelC,0.85,9);
addScatter(3,panelD,0.85,10);
addScatter(4,[e_center,e_north,null,null,e_ne,e_npe,null,null,e_west,null,null,e_nw,e_cpc,null,null,e_wpw,e_sps,null,null,null],0.3,9);
addShape(4,e_shape_south,2,0.62,4);
addShape(4,e_shape_se,9,0.62,4);
addShape(4,e_shape_west,8,0.45,5);
addShape(4,e_shape_east,3,0.62,4);
addScatter(5,[null,f_north,null,null,null,null,null,null,f_west,null,null,f_nw,null,null,null,f_wpw,f_sps,null,null,null],0.3,9);
addShape(5,f_shape_east_top,3,0.62,4);
addShape(5,f_shape_south_top,2,0.6,5);
addShape(5,f_shape_east_mid,3,0.62,4);
addShape(5,f_shape_south_low,2,0.35,5);
addShape(5,f_shape_south_right,2,0.6,4);
addShape(5,f_shape_se,9,0.55,5);
addShape(5,f_shape_west,8,0.4,6,'#7fd06a');

const legendData=labels.map((n,k)=>({name:n,icon:'circle',itemStyle:{color:colors[k],opacity:0.8}}));
const mkLegend=(left,top)=>({show:true,orient:'vertical',left,top,itemWidth:14,itemHeight:14,itemGap:5,padding:0,selectedMode:false,
 data:legendData,textStyle:{color:INK,fontSize:12,fontFamily:FONT,padding:[2,0,0,8]}});

const ARROW='#b3e5fc';
const rect=(x,y,w,h)=>({type:'rect',z:50,shape:{x,y,width:w,height:h},style:{fill:ARROW}});
const tri=(...p)=>({type:'polygon',z:50,shape:{points:p},style:{fill:ARROW}});
const txt=(x,y,t,size,color,align)=>({type:'text',z:60,x,y,style:{text:t,fontSize:size,fill:color,fontFamily:FONT,align:align||'center',verticalAlign:'middle'}});
const box=(x,y,w,h,fill,stroke)=>({type:'rect',z:55,shape:{x,y,width:w,height:h,r:15},style:{fill,stroke,lineWidth:3}});
const dash=(pts,color)=>({type:'polyline',z:80,shape:{points:pts},style:{stroke:color,lineWidth:5,fill:null,lineDash:[15,13],shadowColor:'rgba(0,0,0,0.3)',shadowBlur:4,shadowOffsetX:2,shadowOffsetY:3}});

const graphics=[
 txt(486,16,'LAMARL',30,'#000'),txt(1162,16,'EC-LangGround',30,'#000'),txt(87,94,'observation',30,'#000'),
 rect(77,111,20,85),tri([67,195],[107,195],[87,220]),
 rect(172,260,27,18),tri([198,250],[198,289],[221,269]),
 rect(78,318,19,622),tri([67,939],[107,939],[87,964]),
 rect(97,740,86,18),tri([182,729],[182,769],[212,749]),
 rect(78,1062,19,180),rect(78,1224,115,18),tri([192,1213],[192,1253],[217,1233]),
 box(2.5,221.5,169,96,'#eef6ff','#0b4f9e'),txt(83,255,'Obs',25,'#0d3c6e'),txt(87,285,'Encoder',25,'#0d3c6e'),
 box(2.5,965.5,170,96,'#fdeaea','#aa4031'),txt(87,999,'Comm',25,'#6e0000'),txt(87,1029,'Policy',25,'#6e0000'),
 txt(711,70,'Descriptions',14,INK,'left'),txt(713,565,'Descriptions',14,INK,'left'),txt(716,1053,'Descriptions',14,INK,'left'),
 dash([[345,1248],[721,1113]],'#e8a33c'),dash([[815,1109],[1013,1197]],'#e8a33c'),
 dash([[484,1348],[716,1136]],'#f3d21f'),dash([[814,1132],[1000,1258]],'#f3d21f'),
 dash([[374,1330],[709,1247]],'#2ce8b5'),dash([[843,1244],[989,1308]],'#2ce8b5')
];

const chart=echarts.init(document.getElementById('c'),null,{renderer:'canvas'});
chart.setOption({animation:false,backgroundColor:'#fff',tooltip:{show:false},
 grid:grids,xAxis:xAxes,yAxis:yAxes,series,
 legend:[mkLegend(721,82),mkLegend(723,577),mkLegend(727,1065)],
 graphic:{elements:graphics}});
</script></body></html>
